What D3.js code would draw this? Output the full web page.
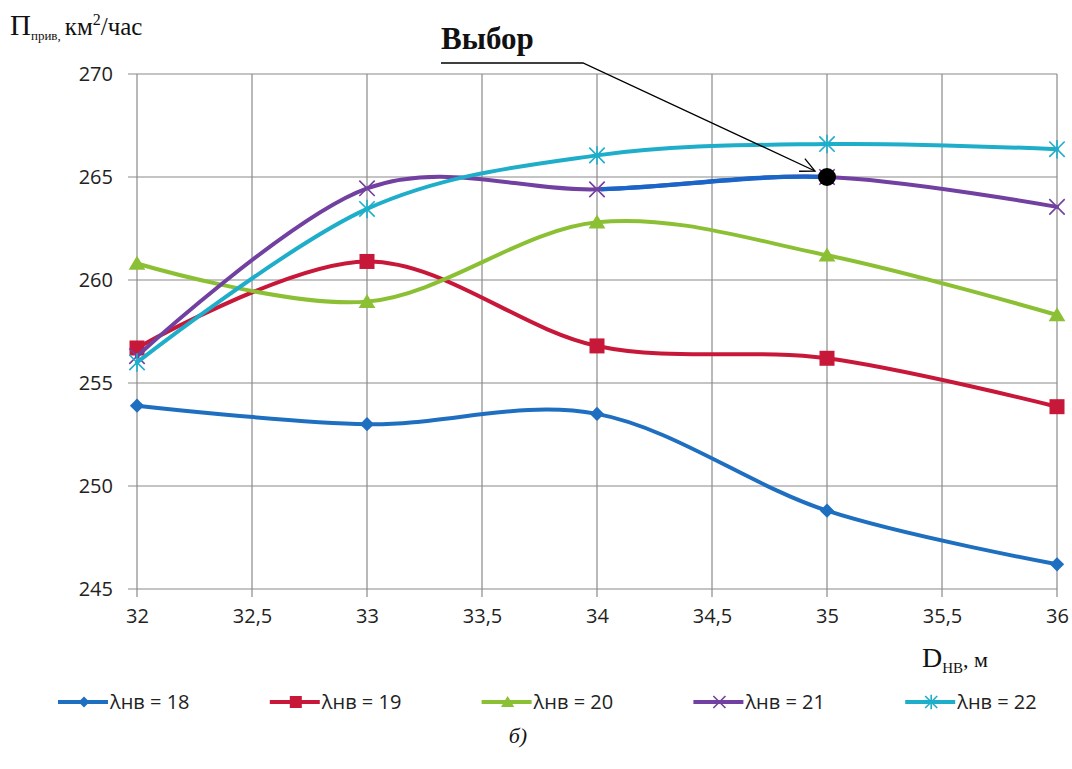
<!DOCTYPE html>
<html>
<head>
<meta charset="utf-8">
<script src="https://cdn.jsdelivr.net/npm/d3@7"></script>
<style>
  html, body { margin: 0; padding: 0; background: #fff; }
  svg { display: block; }
  .tick text { font-family: "Open Sans", "Liberation Sans", sans-serif; font-size: 20px; fill: #222; }
  .serif { font-family: "Liberation Serif", "Times New Roman", serif; fill: #111; }
</style>
</head>
<body>
<svg id="chart" width="1072" height="769"></svg>
<script>
// Diameter of the wheel, m
const diameters = [32, 33, 34, 35, 36];

// Productivity for each λнв value
const lambda18 = [253.9, 253.0, 253.5, 248.8, 246.2];
const lambda19 = [256.7, 260.9, 256.8, 256.2, 253.85];
const lambda20 = [260.8, 258.95, 262.8, 261.2, 258.3];
const lambda21 = [256.3, 264.45, 264.4, 265.0, 263.55];
const lambda22 = [256.0, 263.45, 266.05, 266.6, 266.35];

const seriesNames = ["λнв = 18", "λнв = 19", "λнв = 20", "λнв = 21", "λнв = 22"];

const xTicks = [32, 32.5, 33, 33.5, 34, 34.5, 35, 35.5, 36];
const yTicks = [245, 250, 255, 260, 265, 270];

// The chosen point
const chosenD = 35;
const chosenValue = 265.0;

const colors = ["#1f6fc1", "#c8183a", "#8cc034", "#7140a0", "#1eaec9"];
const markers = ["diamond", "square", "triangle", "cross", "star"];
const seriesValues = [lambda18, lambda19, lambda20, lambda21, lambda22];

const svg = d3.select("#chart");
const plot = { left: 137, right: 1057, top: 74, bottom: 589 };

const x = d3.scaleLinear().domain([32, 36]).range([plot.left, plot.right]);
const y = d3.scaleLinear().domain([245, 270]).range([plot.bottom, plot.top]);

const fmt = v => String(v).replace(".", ",");
const gridColor = "#8a8a8a";

// Grid
const grid = svg.append("g");
grid.selectAll("line.h").data(yTicks).join("line")
  .attr("x1", plot.left - 9).attr("x2", plot.right)
  .attr("y1", d => y(d)).attr("y2", d => y(d))
  .attr("stroke", gridColor).attr("stroke-width", 1.2);
grid.selectAll("line.v").data(xTicks).join("line")
  .attr("x1", d => x(d)).attr("x2", d => x(d))
  .attr("y1", plot.top).attr("y2", plot.bottom + 8)
  .attr("stroke", gridColor).attr("stroke-width", 1.2);

// Axes (labels only; lines come from the grid)
const yAxis = svg.append("g").attr("transform", `translate(${plot.left},0)`)
  .call(d3.axisLeft(y).tickValues(yTicks).tickSize(9).tickPadding(15).tickFormat(fmt));
const xAxis = svg.append("g").attr("transform", `translate(0,${plot.bottom})`)
  .call(d3.axisBottom(x).tickValues(xTicks).tickSize(8).tickPadding(12).tickFormat(fmt));
[yAxis, xAxis].forEach(a => {
  a.select(".domain").remove();
  a.selectAll(".tick line").remove();
});

// Marker symbols
function drawMarker(g, type, color, cx, cy, s) {
  const m = g.append("g").attr("transform", `translate(${cx},${cy})`);
  if (type === "diamond") {
    m.append("path").attr("d", `M0,${-s * 0.55}L${s * 0.55},0L0,${s * 0.55}L${-s * 0.55},0Z`).attr("fill", color);
  } else if (type === "square") {
    m.append("rect").attr("x", -s / 2).attr("y", -s / 2).attr("width", s).attr("height", s).attr("fill", color);
  } else if (type === "triangle") {
    m.append("path").attr("d", `M0,${-s * 0.55}L${s * 0.6},${s * 0.45}L${-s * 0.6},${s * 0.45}Z`).attr("fill", color);
  } else if (type === "cross") {
    const r = s * 0.55;
    m.append("path").attr("d", `M${-r},${-r}L${r},${r}M${-r},${r}L${r},${-r}`)
      .attr("stroke", color).attr("stroke-width", 1.6).attr("fill", "none");
  } else if (type === "star") {
    const r = s * 0.55;
    m.append("path").attr("d", `M${-r},${-r}L${r},${r}M${-r},${r}L${r},${-r}M0,${-r * 1.2}L0,${r * 1.2}`)
      .attr("stroke", color).attr("stroke-width", 1.6).attr("fill", "none");
  }
}

const line = d3.line()
  .x(d => x(d[0])).y(d => y(d[1]))
  .curve(d3.curveCardinal.tension(0));

// Clip for the highlighted stretch of the λнв = 21 curve
svg.append("defs").append("clipPath").attr("id", "chosen-span")
  .append("rect")
  .attr("x", x(34) + 4).attr("y", plot.top - 20)
  .attr("width", x(chosenD) - x(34) - 4).attr("height", plot.bottom - plot.top + 40);

const series = svg.append("g");
seriesValues.forEach((vals, i) => {
  const pts = diameters.map((d, j) => [d, vals[j]]);
  const g = series.append("g");
  g.append("path").attr("d", line(pts))
    .attr("fill", "none").attr("stroke", colors[i]).attr("stroke-width", 4)
    .attr("stroke-linejoin", "round").attr("stroke-linecap", "round");
  if (i === 3) {
    g.append("path").attr("d", line(pts)).attr("clip-path", "url(#chosen-span)")
      .attr("fill", "none").attr("stroke", "#1a66c8").attr("stroke-width", 4.4);
  }
  const size = [13, 15, 14, 14, 14][i];
  pts.forEach(p => drawMarker(g, markers[i], colors[i], x(p[0]), y(p[1]), size));
});

// Chosen point and its annotation
svg.append("circle").attr("cx", x(chosenD)).attr("cy", y(chosenValue)).attr("r", 9).attr("fill", "#000");

const tip = [x(chosenD) - 12, y(chosenValue) - 6];
const elbow = [583, 63];
svg.append("path")
  .attr("d", `M441,63L${elbow[0]},${elbow[1]}L${tip[0]},${tip[1]}`)
  .attr("fill", "none").attr("stroke", "#000").attr("stroke-width", 1.3);
{
  const ang = Math.atan2(tip[1] - elbow[1], tip[0] - elbow[0]);
  const len = 16, spread = 0.45;
  const a1 = [tip[0] - len * Math.cos(ang - spread), tip[1] - len * Math.sin(ang - spread)];
  const a2 = [tip[0] - len * Math.cos(ang + spread), tip[1] - len * Math.sin(ang + spread)];
  svg.append("path")
    .attr("d", `M${a1[0]},${a1[1]}L${tip[0]},${tip[1]}L${a2[0]},${a2[1]}`)
    .attr("fill", "none").attr("stroke", "#000").attr("stroke-width", 1.3);
}
svg.append("text").attr("class", "serif")
  .attr("x", 441).attr("y", 49)
  .attr("font-size", 31).attr("font-weight", "bold")
  .text("Выбор");

// Axis titles
const yTitle = svg.append("text").attr("class", "serif").attr("x", 10).attr("y", 35);
yTitle.append("tspan").attr("font-size", 29).text("П");
yTitle.append("tspan").attr("font-size", 13).attr("dy", 5).text("прив,");
yTitle.append("tspan").attr("font-size", 25).attr("dy", -5).attr("dx", 4).text("км");
yTitle.append("tspan").attr("font-size", 16).attr("dy", -10).text("2");
yTitle.append("tspan").attr("font-size", 25).attr("dy", 10).text("/час");

const xTitle = svg.append("text").attr("class", "serif").attr("x", 922).attr("y", 667);
xTitle.append("tspan").attr("font-size", 28).text("D");
xTitle.append("tspan").attr("font-size", 15).attr("dy", 6).text("НВ");
xTitle.append("tspan").attr("font-size", 22).attr("dy", -6).text(", м");

// Legend
const legend = svg.append("g");
seriesNames.forEach((name, i) => {
  const lx = 58 + i * 211.8, ly = 702;
  const g = legend.append("g");
  g.append("line").attr("x1", lx).attr("x2", lx + 50).attr("y1", ly).attr("y2", ly)
    .attr("stroke", colors[i]).attr("stroke-width", 4);
  drawMarker(g, markers[i], colors[i], lx + 26, ly, [10, 12, 11, 11, 11][i]);
  g.append("text").attr("x", lx + 52).attr("y", ly).attr("dy", "0.35em")
    .attr("font-family", "'Open Sans', 'Liberation Sans', sans-serif")
    .attr("font-size", 20).attr("fill", "#222").text(name);
});

// Caption
svg.append("text").attr("class", "serif")
  .attr("x", 518).attr("y", 743).attr("text-anchor", "middle")
  .attr("font-size", 22).attr("font-style", "italic").text("б)");
</script>
</body>
</html>
